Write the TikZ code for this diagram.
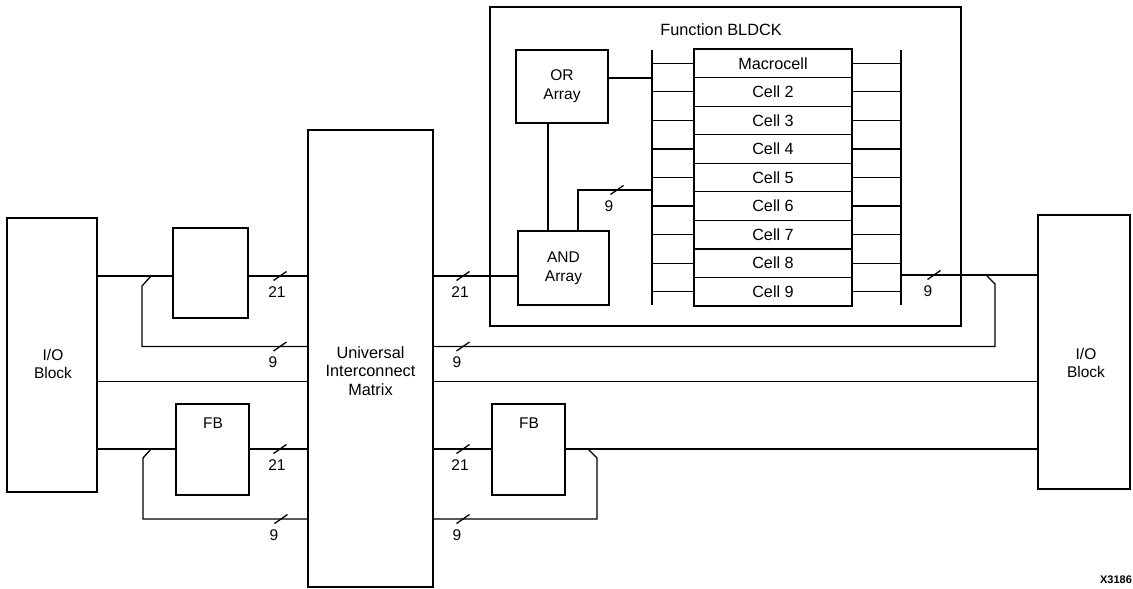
\documentclass[tikz,border=0pt]{standalone}
\usepackage{fontspec}
\setmainfont{Liberation Sans}
\usetikzlibrary{calc,fit}
\begin{document}
\begin{tikzpicture}[x=1pt,y=-1pt,
  box/.style={draw, line width=2.6pt, inner sep=0pt, outer sep=0pt},
  cellbox/.style={draw, line width=1.2pt, inner sep=0pt, outer sep=0pt, minimum width=158pt, minimum height=28.56pt, font=\fontsize{16.2}{18}\selectfont},
  wire/.style={line width=1.3pt},
  buswire/.style={line width=1.6pt},
  lbl/.style={inner sep=0pt, align=center, font=\fontsize{15.5}{18.5}\selectfont},
  biglbl/.style={lbl, font=\fontsize{16.3}{18.5}\selectfont},
  pics/bm/.style 2 args={code={
    \draw[wire] (-6.5,4.5) -- (6.5,-4.5);
    \node[lbl] at (#2,16) {#1};}}
  ]
\useasboundingbox (0,0) rectangle (1133,589);

% ---------- blocks ----------
\node[box, minimum width=90pt, minimum height=274pt] (ioL) at (52,355) {};
\node[lbl] (ioLt) at (53,364) {I/O\\Block};
\node[box, minimum width=75pt, minimum height=90pt] (fb1) at (210.5,273) {};
\node[box, minimum width=73pt, minimum height=91pt] (fb2) at (212.5,449.5) {};
\node[lbl] (fb2t) at (213,423) {FB};
\node[box, minimum width=125pt, minimum height=457pt] (uim) at (370.5,358.5) {};
\node[biglbl] (uimt) at (370.5,371) {Universal\\Interconnect\\Matrix};
\node[box, minimum width=73pt, minimum height=91pt] (fb3) at (528.5,449.5) {};
\node[lbl] (fb3t) at (529,423) {FB};
\node[box, minimum width=92pt, minimum height=274pt] (ioR) at (1084,352) {};
\node[lbl] (ioRt) at (1086,363) {I/O\\Block};

% function block
\node[box, minimum width=471pt, minimum height=319pt] (func) at (725.5,166.5) {};
\node[biglbl] (funct) at (721,30) {Function BLDCK};
\node[box, minimum width=92pt, minimum height=73pt] (orA) at (562,86.5) {};
\node[lbl] (orAt) at (562,86) {OR\\Array};
\node[box, minimum width=91pt, minimum height=74pt] (andA) at (563.5,268) {};
\node[lbl] (andAt) at (563.5,268.5) {AND\\Array};

\foreach \i/\t in {1/Macrocell,2/Cell 2,3/Cell 3,4/Cell 4,5/Cell 5,6/Cell 6,7/Cell 7,8/Cell 8,9/Cell 9}
  \node[cellbox] (cell\i) at (773,{49+28.56*(\i-0.5)}) {\t};
\node[draw, line width=2.6pt, inner sep=0pt, outer sep=0pt, fit=(cell1)(cell9)] (stack) {};

% buses inside function block
\coordinate (lbT) at (652,50);
\coordinate (lbB) at (652,305);
\coordinate (rbT) at (901,50);
\coordinate (rbB) at (901,305);
\draw[buswire] (lbT) -- (lbB);
\draw[buswire] (rbT) -- (rbB);
\foreach \i in {1,...,9}{
  \draw[wire] (lbT |- cell\i.west) -- (cell\i.west);
  \draw[wire] (cell\i.east) -- (rbT |- cell\i.east);
}
\coordinate (yOR) at (0,78);
\draw[wire] (orA.east |- yOR) -- (lbT |- yOR);
\coordinate (xOA) at (548,0);
\draw[wire] (orA.south -| xOA) -- (andA.north -| xOA);
\coordinate (xAB) at (578,0);
\coordinate (yAB) at (0,190);
\draw[wire] (andA.north -| xAB) |- (lbT |- yAB);
\pic at (617,190) {bm={9}{-8}};

% ---------- levels ----------
\coordinate (yA) at (0,276);
\coordinate (yB) at (0,346.5);
\coordinate (yC) at (0,381.5);
\coordinate (yD) at (0,449);
\coordinate (yE) at (0,519);
\coordinate (yR) at (0,275);

% ---------- left side ----------
\draw[wire] (ioL.east |- yA) -- (fb1.west |- yA);
\draw[wire] (fb1.east |- yA) -- (uim.west |- yA);
\pic at (280,276) {bm={21}{-3}};
\coordinate (tapL1) at (151,276);
\draw[wire] (tapL1) -- ++(-9,10) |- (uim.west |- yB);
\pic at (280,346.5) {bm={9}{-7}};
\draw[wire] (ioL.east |- yC) -- (uim.west |- yC);
\draw[wire] (ioL.east |- yD) -- (fb2.west |- yD);
\draw[wire] (fb2.east |- yD) -- (uim.west |- yD);
\pic at (280,449) {bm={21}{-3}};
\coordinate (tapL2) at (151,449);
\draw[wire] (tapL2) -- ++(-8,9) |- (uim.west |- yE);
\pic at (281,519) {bm={9}{-7}};

% ---------- right side ----------
\draw[wire] (uim.east |- yA) -- (andA.west |- yA);
\pic at (463,276) {bm={21}{-3}};
\coordinate (tapR1) at (986,275);
\draw[wire] (uim.east |- yB) -| ($(tapR1)+(9,9)$) -- (tapR1);
\pic at (463,346.5) {bm={9}{-6}};
\draw[wire] (uim.east |- yC) -- (ioR.west |- yC);
\draw[wire] (uim.east |- yD) -- (fb3.west |- yD);
\draw[wire] (fb3.east |- yD) -- (ioR.west |- yD);
\pic at (463,449) {bm={21}{-3}};
\coordinate (tapR2) at (588,449);
\draw[wire] (tapR2) -- ++(9,9) |- (uim.east |- yE);
\pic at (463,519) {bm={9}{-6}};
\draw[wire] (rbT |- yR) -- (ioR.west |- yR);
\pic at (934,275) {bm={9}{-6}};

\node[inner sep=0pt, font=\bfseries\fontsize{11}{13}\selectfont] (code) at (1116,580) {X3186};
\end{tikzpicture}
\end{document}
